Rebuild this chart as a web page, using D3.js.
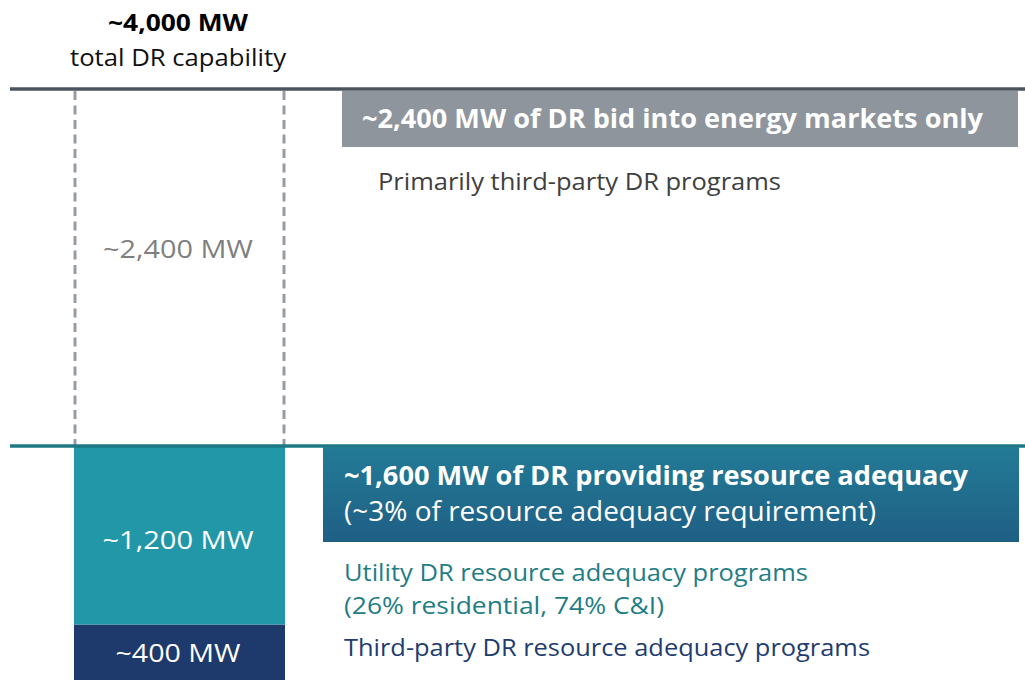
<!DOCTYPE html>
<html>
<head>
<meta charset="utf-8">
<script src="https://cdn.jsdelivr.net/npm/d3@7"></script>
<style>
  html, body { margin: 0; padding: 0; background: #fff; }
  svg { display: block; }
  text { font-family: "Open Sans", "Noto Sans", sans-serif; }
</style>
</head>
<body>
<svg id="chart" width="1025" height="680"></svg>
<script>
// ---- data ----
const segments = ["Third-party RA", "Utility RA", "Energy markets only"];
const segmentValues = [400, 1200, 2400];
const segmentLabels = ["~400 MW", "~1,200 MW", "~2,400 MW"];
const totalValue = 4000;
const totalLabel = ["~4,000 MW", "total DR capability"];
const energyHeader = "~2,400 MW of DR bid into energy markets only";
const energyNote = "Primarily third-party DR programs";
const raHeader = ["~1,600 MW of DR providing resource adequacy", "(~3% of resource adequacy requirement)"];
const utilityNote = ["Utility DR resource adequacy programs", "(26% residential, 74% C&I)"];
const thirdPartyNote = "Third-party DR resource adequacy programs";

const svg = d3.select("#chart");

const y = d3.scaleLinear().domain([0, totalValue]).range([684, 89]);
const x = d3.scaleBand().domain(["DR"]).range([74, 285]).padding(0);

// stacked data
let acc = 0;
const stack = segments.map((s, i) => {
  const d = { key: s, y0: acc, y1: acc + segmentValues[i], label: segmentLabels[i] };
  acc += segmentValues[i];
  return d;
});
const fills = { "Third-party RA": "#1e3a6c", "Utility RA": "#2297a8", "Energy markets only": "none" };
const labelFill = { "Third-party RA": "#ffffff", "Utility RA": "#ffffff", "Energy markets only": "#7f7f7f" };

const defs = svg.append("defs");
const grad = defs.append("linearGradient").attr("id", "raGrad").attr("x1", 0).attr("y1", 0).attr("x2", 0).attr("y2", 1);
grad.append("stop").attr("offset", "0%").attr("stop-color", "#237b96");
grad.append("stop").attr("offset", "100%").attr("stop-color", "#1f5f85");

// solid bars
svg.selectAll("rect.bar").data(stack.filter(d => fills[d.key] !== "none")).join("rect")
  .attr("class", "bar")
  .attr("x", x("DR")).attr("width", x.bandwidth())
  .attr("y", d => y(d.y1)).attr("height", d => y(d.y0) - y(d.y1))
  .attr("fill", d => fills[d.key]);

// dashed box for energy-only
const eo = stack.find(d => d.key === "Energy markets only");
[x("DR") + 1, x("DR") + x.bandwidth() - 1].forEach(xx => {
  svg.append("line")
    .attr("x1", xx).attr("x2", xx).attr("y1", y(eo.y1) + 2).attr("y2", y(eo.y0))
    .attr("stroke", "#959ca4").attr("stroke-width", 3).attr("stroke-dasharray", "9,5.5");
});

// horizontal rules
svg.append("line").attr("x1", 10).attr("x2", 1025).attr("y1", y(totalValue)).attr("y2", y(totalValue))
  .attr("stroke", "#4b535c").attr("stroke-width", 3.5);
svg.append("line").attr("x1", 10).attr("x2", 1025).attr("y1", y(eo.y0)).attr("y2", y(eo.y0))
  .attr("stroke", "#1e7884").attr("stroke-width", 3.5);

// segment labels
const labelY = { "Third-party RA": 662, "Utility RA": 549, "Energy markets only": 258 };
const labelW = { "Third-party RA": 125, "Utility RA": 151, "Energy markets only": 150 };
svg.selectAll("text.seg").data(stack).join("text")
  .attr("class", "seg")
  .attr("x", 178)
  .attr("y", d => labelY[d.key])
  .attr("text-anchor", "middle")
  .attr("font-size", 26)
  .attr("fill", d => labelFill[d.key])
  .attr("textLength", d => labelW[d.key]).attr("lengthAdjust", "spacingAndGlyphs")
  .text(d => d.label);

// total label
svg.append("text").attr("x", 178).attr("y", 31).attr("text-anchor", "middle")
  .attr("font-size", 23).attr("font-weight", "bold").attr("fill", "#000")
  .attr("textLength", 140).attr("lengthAdjust", "spacingAndGlyphs").text(totalLabel[0]);
svg.append("text").attr("x", 178).attr("y", 66).attr("text-anchor", "middle")
  .attr("font-size", 24).attr("fill", "#111")
  .attr("textLength", 216).attr("lengthAdjust", "spacingAndGlyphs").text(totalLabel[1]);

// energy header box
svg.append("rect").attr("x", 342).attr("y", y(totalValue) + 2).attr("width", 676).attr("height", 56)
  .attr("fill", "#8e959d");
svg.append("text").attr("x", 362).attr("y", 128).attr("font-size", 27).attr("font-weight", "bold")
  .attr("fill", "#fff").attr("textLength", 621).attr("lengthAdjust", "spacingAndGlyphs").text(energyHeader);
svg.append("text").attr("x", 378).attr("y", 190).attr("font-size", 23).attr("fill", "#404040")
  .attr("textLength", 403).attr("lengthAdjust", "spacingAndGlyphs").text(energyNote);

// RA header box
svg.append("rect").attr("x", 323).attr("y", y(eo.y0) + 1).attr("width", 696).attr("height", 95)
  .attr("fill", "url(#raGrad)");
svg.append("text").attr("x", 344).attr("y", 485).attr("font-size", 27).attr("font-weight", "bold")
  .attr("fill", "#fff").attr("textLength", 624).attr("lengthAdjust", "spacingAndGlyphs").text(raHeader[0]);
svg.append("text").attr("x", 344).attr("y", 521).attr("font-size", 27).attr("fill", "#fff")
  .attr("textLength", 532).attr("lengthAdjust", "spacingAndGlyphs").text(raHeader[1]);

// notes
svg.append("text").attr("x", 344).attr("y", 581).attr("font-size", 23).attr("fill", "#1f7d86")
  .attr("textLength", 464).attr("lengthAdjust", "spacingAndGlyphs").text(utilityNote[0]);
svg.append("text").attr("x", 344).attr("y", 614).attr("font-size", 23).attr("fill", "#1f7d86")
  .attr("textLength", 320).attr("lengthAdjust", "spacingAndGlyphs").text(utilityNote[1]);
svg.append("text").attr("x", 344).attr("y", 656).attr("font-size", 23).attr("fill", "#1f3c70")
  .attr("textLength", 526).attr("lengthAdjust", "spacingAndGlyphs").text(thirdPartyNote);
</script>
</body>
</html>
